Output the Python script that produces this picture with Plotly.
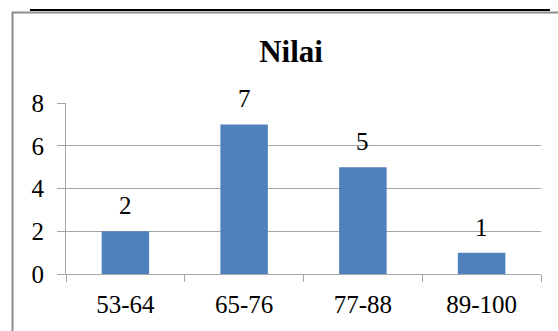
import plotly.graph_objects as go

# Frequency table of scores
categories = ["53-64", "65-76", "77-88", "89-100"]
counts = [2, 7, 5, 1]
y_ticks = [0, 2, 4, 6, 8]

W, H = 558, 331
L, R, T, B = 66, 17, 103, 57
plot_w = W - L - R
plot_h = H - T - B

def px_x(px):
    return (px - L) / plot_w

def px_y(py):
    return (H - B - py) / plot_h

serif = "Liberation Serif"
bar_color = "#4F81BD"
grid_color = "#A6A6A6"

fig = go.Figure(
    go.Bar(
        x=categories,
        y=counts,
        marker=dict(color=bar_color, line=dict(width=0)),
        width=0.4,
    )
)

# value labels above each bar
for c, v in zip(categories, counts):
    fig.add_annotation(
        x=c, y=v, text=str(v), showarrow=False,
        yanchor="bottom", yshift=10,
        font=dict(family=serif, size=25, color="black"),
    )

# chart frame: black top rule and gray border
fig.add_shape(type="line", xref="paper", yref="paper",
              x0=px_x(30), x1=px_x(550), y0=px_y(10), y1=px_y(10),
              line=dict(color="black", width=2))
fig.add_shape(type="line", xref="paper", yref="paper",
              x0=px_x(12), x1=px_x(560), y0=px_y(12.5), y1=px_y(12.5),
              line=dict(color="#8C8C8C", width=2))
fig.add_shape(type="line", xref="paper", yref="paper",
              x0=px_x(12.5), x1=px_x(12.5), y0=px_y(12), y1=px_y(331),
              line=dict(color="#8C8C8C", width=2))

fig.update_layout(
    width=W, height=H,
    margin=dict(l=L, r=R, t=T, b=B, pad=0),
    paper_bgcolor="white", plot_bgcolor="white",
    showlegend=False,
    title=dict(
        text="<b>Nilai</b>",
        x=291 / W, xref="container", xanchor="center",
        y=1 - 51 / H, yref="container", yanchor="middle",
        font=dict(family=serif, size=31, color="black"),
    ),
    xaxis=dict(
        type="category",
        tickson="boundaries",
        ticks="outside", ticklen=7, tickcolor=grid_color, tickwidth=1,
        showline=True, linecolor=grid_color, linewidth=1,
        showgrid=False, zeroline=False,
        range=[-0.5, 3.5],
        ticklabelstandoff=8,
        tickfont=dict(family=serif, size=25, color="black"),
    ),
    yaxis=dict(
        range=[0, 8],
        tickvals=y_ticks,
        ticks="outside", ticklen=8, tickcolor=grid_color, tickwidth=1,
        showline=True, linecolor=grid_color, linewidth=1,
        showgrid=True, gridcolor=grid_color, gridwidth=1,
        zeroline=False,
        ticklabelstandoff=8,
        tickfont=dict(family=serif, size=25, color="black"),
    ),
)

fig.write_html("out.html")
